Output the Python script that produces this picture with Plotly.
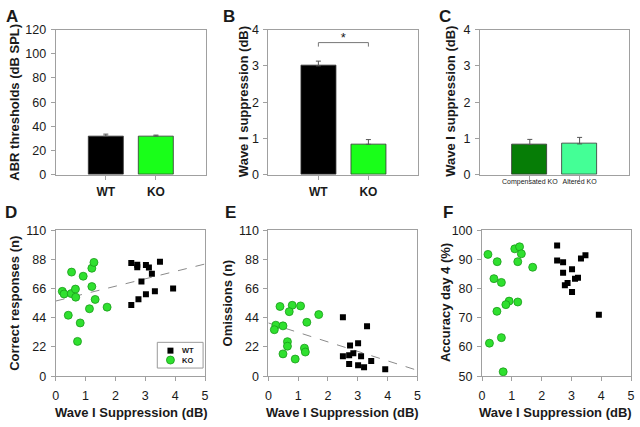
import plotly.graph_objects as go

# ---------------- data ----------------
bar_categories = ["WT", "KO"]
abr_mean = [32.0, 32.0]
abr_err = [1.6, 0.8]

supp_mean = [3.0, 0.84]
supp_err = [0.13, 0.13]

ko_groups = ["Compensated KO", "Altered KO"]
ko_mean = [0.835, 0.85]
ko_err = [0.14, 0.18]

sig_x = [1, 1, 2, 2]
sig_y = [3.53, 3.64, 3.64, 3.53]

d_wt_x = [2.53, 2.73, 2.73, 3.02, 3.12, 3.49, 3.22, 2.87, 3.93, 3.32, 3.02, 2.77, 2.53]
d_wt_y = [85.2, 84.0, 82.1, 83.8, 81.8, 86.2, 77.2, 71.4, 66.1, 63.9, 61.7, 58.0, 53.7]
d_ko_x = [0.22, 0.28, 0.53, 0.52, 0.66, 0.67, 0.92, 0.42, 0.82, 0.73, 1.21, 1.28, 1.21, 1.32, 1.13, 1.72]
d_ko_y = [63.9, 61.9, 78.4, 62.2, 65.6, 59.5, 75.3, 45.9, 40.1, 26.2, 81.3, 85.7, 67.5, 57.8, 50.8, 52.0]
d_trend_x = [0, 5]
d_trend_y = [56.6, 84.5]

e_wt_x = [2.50, 3.31, 2.74, 3.01, 2.50, 2.71, 2.85, 3.11, 3.45, 2.71, 3.01, 3.21, 3.92]
e_wt_y = [44.4, 37.6, 23.1, 24.8, 15.1, 15.8, 17.2, 15.1, 11.4, 9.2, 8.3, 6.8, 5.3]
e_ko_x = [0.39, 0.80, 1.08, 0.70, 1.69, 0.25, 0.20, 0.49, 1.29, 0.64, 0.64, 1.21, 1.24, 0.49, 0.90]
e_ko_y = [52.5, 53.4, 52.9, 48.6, 46.4, 38.4, 35.0, 37.9, 40.6, 26.0, 22.6, 21.1, 18.2, 16.8, 12.9]
e_trend_x = [0, 5]
e_trend_y = [40.1, 4.4]

f_wt_x = [2.52, 2.52, 2.72, 2.72, 3.02, 3.32, 3.47, 3.12, 3.22, 2.87, 2.78, 3.02, 3.92]
f_wt_y = [94.7, 89.6, 89.0, 85.4, 86.6, 90.3, 91.4, 83.4, 83.7, 81.9, 81.1, 78.8, 71.0]
f_ko_x = [0.20, 0.51, 0.40, 0.65, 1.10, 1.26, 1.32, 1.20, 1.70, 0.91, 0.80, 1.20, 0.50, 0.25, 0.65, 0.71]
f_ko_y = [91.7, 89.2, 83.4, 82.1, 93.6, 94.3, 91.9, 89.2, 87.3, 75.7, 74.5, 75.4, 72.2, 61.3, 63.2, 51.5]

d_ticks = [0, 22, 44, 66, 88, 110]
f_ticks = [50, 60, 70, 80, 90, 100]
x_ticks = [0, 1, 2, 3, 4, 5]
legend_labels = ["WT", "KO"]

# ---------------- styling ----------------
W, H = 640, 427
FONT = "Liberation Sans, Arial, sans-serif"
AX = "#a0a0a0"
TXT = "#1a1a1a"
KO_FILL = "#2fe02f"
KO_EDGE = "#1b9a1b"


def px_x(p):
    return p / W


def px_y(p):
    return 1 - p / H


top_dom = [px_y(173.5), px_y(23.3)]
bot_dom = [px_y(381.7), px_y(230.7)]

fig = go.Figure()

# Panel A
fig.add_trace(go.Bar(
    x=[1, 2], y=abr_mean, width=0.7,
    marker=dict(color=["#000000", "#19ff19"], line=dict(color="#333333", width=0.8)),
    error_y=dict(type="data", array=abr_err, arrayminus=[0, 0], symmetric=False,
                 color="#555555", thickness=1, width=2.5),
    xaxis="x", yaxis="y", showlegend=False))

# Panel B
fig.add_trace(go.Bar(
    x=[1, 2], y=supp_mean, width=0.7,
    marker=dict(color=["#000000", "#19ff19"], line=dict(color="#333333", width=0.8)),
    error_y=dict(type="data", array=supp_err, arrayminus=[0, 0], symmetric=False,
                 color="#555555", thickness=1, width=2.5),
    xaxis="x2", yaxis="y2", showlegend=False))
fig.add_trace(go.Scatter(
    x=sig_x, y=sig_y, mode="lines", line=dict(color="#777777", width=1),
    xaxis="x2", yaxis="y2", showlegend=False, hoverinfo="skip"))
fig.add_trace(go.Scatter(
    x=[sum(sig_x) / len(sig_x)], y=[max(sig_y) + 0.1], mode="text", text=["*"],
    textfont=dict(family=FONT, size=13, color=TXT),
    xaxis="x2", yaxis="y2", showlegend=False, hoverinfo="skip"))

# Panel C
fig.add_trace(go.Bar(
    x=[1, 2], y=ko_mean, width=0.7,
    marker=dict(color=["#067d06", "#44ff96"], line=dict(color="#333333", width=0.8)),
    error_y=dict(type="data", array=ko_err, arrayminus=[0, 0], symmetric=False,
                 color="#555555", thickness=1, width=2.5),
    xaxis="x3", yaxis="y3", showlegend=False))

# Panel D
fig.add_trace(go.Scatter(
    x=d_trend_x, y=d_trend_y, mode="lines", line=dict(color="#8a8a8a", width=1, dash="dash"),
    xaxis="x4", yaxis="y4", showlegend=False, hoverinfo="skip"))
fig.add_trace(go.Scatter(
    x=d_wt_x, y=d_wt_y, mode="markers", name="WT",
    marker=dict(symbol="square", size=6, color="#000000"),
    xaxis="x4", yaxis="y4", showlegend=False))
fig.add_trace(go.Scatter(
    x=d_ko_x, y=d_ko_y, mode="markers", name="KO",
    marker=dict(symbol="circle", size=8, color=KO_FILL, line=dict(color=KO_EDGE, width=0.8)),
    xaxis="x4", yaxis="y4", showlegend=False))

# Panel E
fig.add_trace(go.Scatter(
    x=e_trend_x, y=e_trend_y, mode="lines", line=dict(color="#8a8a8a", width=1, dash="dash"),
    xaxis="x5", yaxis="y5", showlegend=False, hoverinfo="skip"))
fig.add_trace(go.Scatter(
    x=e_wt_x, y=e_wt_y, mode="markers",
    marker=dict(symbol="square", size=6, color="#000000"),
    xaxis="x5", yaxis="y5", showlegend=False))
fig.add_trace(go.Scatter(
    x=e_ko_x, y=e_ko_y, mode="markers",
    marker=dict(symbol="circle", size=8, color=KO_FILL, line=dict(color=KO_EDGE, width=0.8)),
    xaxis="x5", yaxis="y5", showlegend=False))

# Panel F
fig.add_trace(go.Scatter(
    x=f_wt_x, y=f_wt_y, mode="markers",
    marker=dict(symbol="square", size=6, color="#000000"),
    xaxis="x6", yaxis="y6", showlegend=False))
fig.add_trace(go.Scatter(
    x=f_ko_x, y=f_ko_y, mode="markers",
    marker=dict(symbol="circle", size=8, color=KO_FILL, line=dict(color=KO_EDGE, width=0.8)),
    xaxis="x6", yaxis="y6", showlegend=False))


def xax(dom, anchor, rng, tickvals, ticktext, font, standoff):
    return dict(domain=dom, anchor=anchor, range=rng, tickvals=tickvals, ticktext=ticktext,
                showline=True, linecolor=AX, linewidth=1, mirror=True,
                ticks="outside", ticklen=4, tickcolor=AX, tickwidth=1,
                showgrid=False, zeroline=False, tickfont=font,
                ticklabelstandoff=standoff, fixedrange=True)


def yax(dom, anchor, rng, tickvals):
    return dict(domain=dom, anchor=anchor, range=rng, tickvals=tickvals,
                showline=True, linecolor=AX, linewidth=1, mirror=True,
                ticks="outside", ticklen=4, tickcolor=AX, tickwidth=1,
                showgrid=False, zeroline=False,
                tickfont=dict(family=FONT, size=12.5, color=TXT),
                ticklabelstandoff=2, fixedrange=True)


cat_font = dict(family=FONT, size=12, color=TXT, weight="bold")
small_font = dict(family=FONT, size=7, color=TXT)
num_font = dict(family=FONT, size=12.5, color=TXT)

xA = [px_x(53.3), px_x(205.3)]
xB = [px_x(268.3), px_x(420.0)]
xC = [px_x(482.3), px_x(633.3)]
xD = [px_x(53.3), px_x(204.3)]
xE = [px_x(268.3), px_x(419.0)]
xF = [px_x(484.3), px_x(635.0)]

fig.update_layout(
    width=W, height=H,
    margin=dict(l=0, r=0, t=0, b=0),
    paper_bgcolor="white", plot_bgcolor="white",
    font=dict(family=FONT, color=TXT),
    bargap=0,
    showlegend=False,
    xaxis=xax(xA, "y", [0, 3], [1, 2], bar_categories, cat_font, 2),
    yaxis=yax(top_dom, "x", [0, 120], [0, 20, 40, 60, 80, 100, 120]),
    xaxis2=xax(xB, "y2", [0, 3], [1, 2], bar_categories, cat_font, 2),
    yaxis2=yax(top_dom, "x2", [0, 4], [0, 1, 2, 3, 4]),
    xaxis3=xax(xC, "y3", [0, 3], [1, 2], ko_groups, small_font, -4),
    yaxis3=yax(top_dom, "x3", [0, 4], [0, 1, 2, 3, 4]),
    xaxis4=xax(xD, "y4", [0, 5], x_ticks, [str(v) for v in x_ticks], num_font, 4),
    yaxis4=yax(bot_dom, "x4", [0, 110], d_ticks),
    xaxis5=xax(xE, "y5", [0, 5], x_ticks, [str(v) for v in x_ticks], num_font, 4),
    yaxis5=yax(bot_dom, "x5", [0, 110], d_ticks),
    xaxis6=xax(xF, "y6", [0, 5], x_ticks, [str(v) for v in x_ticks], num_font, 4),
    yaxis6=yax(bot_dom, "x6", [50, 100], f_ticks),
)

ann = []
# panel letters
for letter, cx, cy in [("A", 9, 10), ("B", 228, 10), ("C", 447, 10),
                       ("D", 8, 212), ("E", 230, 212), ("F", 450, 212)]:
    ann.append(dict(text=letter, x=px_x(cx), y=px_y(cy), xref="paper", yref="paper",
                    showarrow=False, xanchor="center", yanchor="middle",
                    font=dict(family=FONT, size=17, color=TXT, weight="bold")))

# y axis titles
for t, cx, cy in [("ABR thresholds (dB SPL)", 12, 98), ("Wave I suppression (dB)", 243, 98),
                  ("Wave I suppression (dB)", 453, 98), ("Correct responses (n)", 12, 306),
                  ("Omissions (n)", 227, 306), ("Accuracy day 4 (%)", 448, 306)]:
    ann.append(dict(text=t, x=px_x(cx), y=px_y(cy), xref="paper", yref="paper",
                    showarrow=False, textangle=-90, xanchor="center", yanchor="middle",
                    font=dict(family=FONT, size=13, color=TXT, weight="bold")))

# x axis titles
for cx in [130, 343, 559]:
    ann.append(dict(text="Wave I Suppression (dB)", x=px_x(cx), y=px_y(419), xref="paper",
                    yref="paper", showarrow=False, xanchor="center", yanchor="middle",
                    font=dict(family=FONT, size=13, color=TXT, weight="bold")))

# legend (panel D) drawn as a boxed key
shapes = [
    dict(type="rect", xref="paper", yref="paper", x0=px_x(156), x1=px_x(202.3),
         y0=px_y(373.3), y1=px_y(346.7), line=dict(color="#9a9a9a", width=1),
         fillcolor="white", layer="above"),
    dict(type="rect", xref="paper", yref="paper", xsizemode="pixel", ysizemode="pixel",
         xanchor=px_x(169.3), yanchor=px_y(355.3), x0=-3, x1=3, y0=-3, y1=3,
         fillcolor="#000000", line=dict(width=0), layer="above"),
    dict(type="circle", xref="paper", yref="paper", xsizemode="pixel", ysizemode="pixel",
         xanchor=px_x(169.3), yanchor=px_y(365), x0=-4, x1=4, y0=-4, y1=4,
         fillcolor=KO_FILL, line=dict(color=KO_EDGE, width=0.8), layer="above"),
]
for lab, cy in zip(legend_labels, [355.3, 365]):
    ann.append(dict(text=lab, x=px_x(179), y=px_y(cy), xref="paper", yref="paper",
                    showarrow=False, xanchor="left", yanchor="middle",
                    font=dict(family=FONT, size=7.5, color=TXT, weight="bold")))

fig.update_layout(annotations=ann, shapes=shapes)

fig.write_html("out.html", config={"displayModeBar": False},
               post_script="document.body.style.margin='0px';")
